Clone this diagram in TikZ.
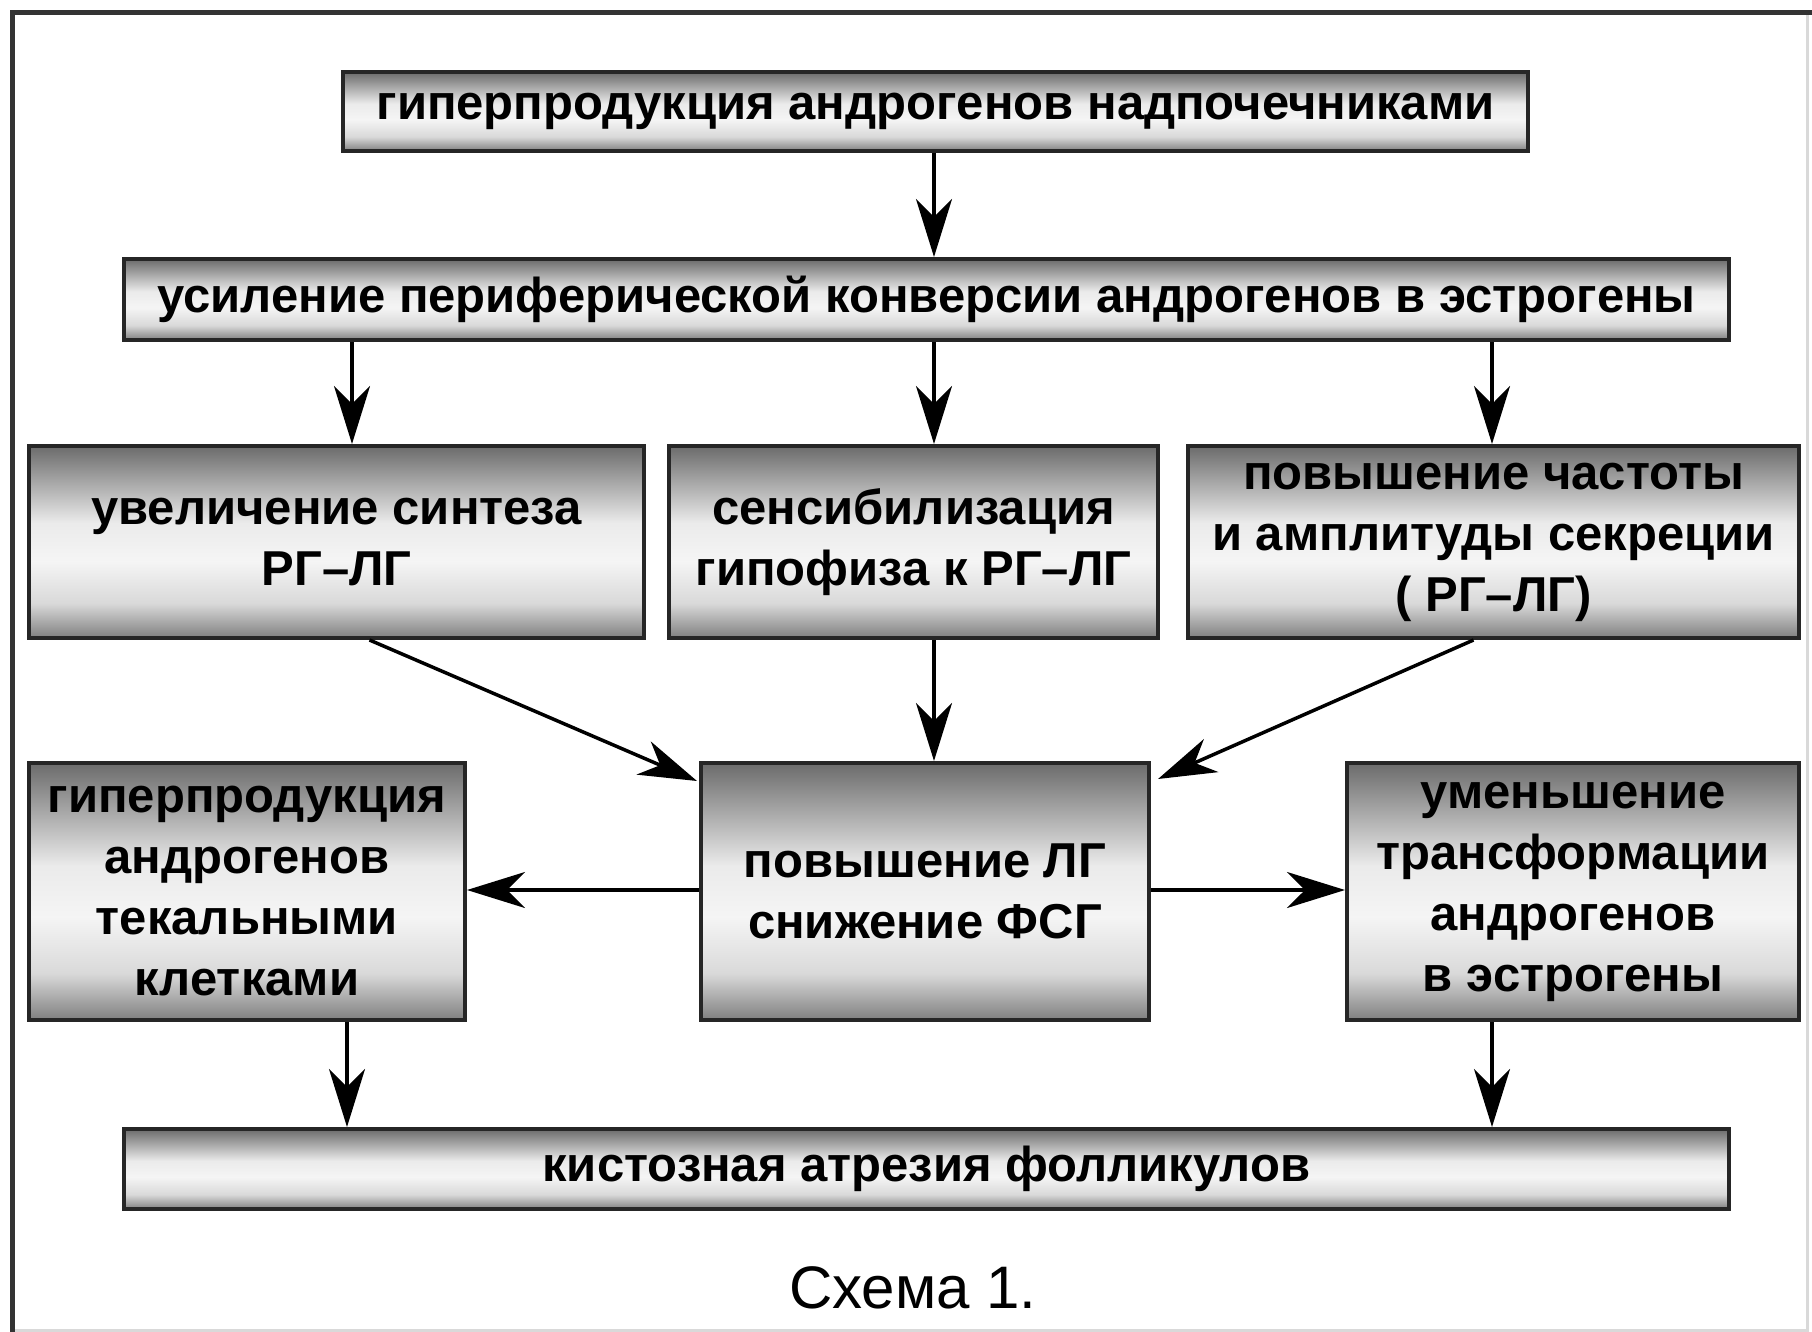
\documentclass[tikz,border=0pt]{standalone}
\usepackage{fontspec}
\setmainfont{Liberation Sans}
\usetikzlibrary{arrows.meta,calc}
\pgfdeclareverticalshading{boxsh}{100bp}{color(0bp)=(black!50); color(25bp)=(black!50); color(34bp)=(black!15); color(45bp)=(black!4); color(55bp)=(black!8); color(75bp)=(black!58); color(100bp)=(black!58)}
\tikzset{
  box/.style={draw=black!85, line width=4pt, shading=boxsh, inner sep=0pt, align=center,
    font=\fontsize{49}{61}\selectfont\bfseries},
  arr/.style={draw=black, line width=3.5pt, -{Stealth[length=58pt,width=36pt,inset=18pt]}},
  frameline/.style={draw=black!80, line width=5pt},
  faintline/.style={draw=black!15, line width=3pt}
}
\begin{document}
\begin{tikzpicture}[x=1pt,y=-1pt]
\useasboundingbox (0,0) rectangle (1812,1332);
\fill[white] (0,0) rectangle (1812,1332);
% frame
\coordinate (f1) at (12,1332);
\coordinate (f2) at (12,13);
\coordinate (f3) at (1812,13);
\coordinate (f4) at (1807,13);
\coordinate (f5) at (1807,1330);
\coordinate (f6) at (12,1330);
\draw[faintline] (f4) -- (f5) -- (f6);
\draw[frameline] (f1) -- (f2) -- (f3);
% boxes
\node[box, minimum width=1185pt, minimum height=79pt] (B1) at (935.5,111.5) {гиперпродукция андрогенов надпочечниками};
\node[box, minimum width=1605pt, minimum height=81pt] (B2) at (926.5,299.5) {усиление периферической конверсии андрогенов в эстрогены};
\node[box, minimum width=615pt, minimum height=192pt] (B3a) at (336.5,542) {увеличение синтеза\\РГ–ЛГ};
\node[box, minimum width=489pt, minimum height=192pt] (B3b) at (913.5,542) {сенсибилизация\\гипофиза к РГ–ЛГ};
\node[box, minimum width=611pt, minimum height=192pt] (B3c) at (1493.5,542) {повышение частоты\\и амплитуды секреции\\( РГ–ЛГ)};
\node[box, minimum width=436pt, minimum height=257pt] (B4a) at (247,891.5) {гиперпродукция\\андрогенов\\текальными\\клетками};
\node[box, minimum width=448pt, minimum height=257pt] (B4b) at (925,891.5) {повышение ЛГ\\снижение ФСГ};
\node[box, minimum width=452pt, minimum height=257pt] (B4c) at (1573,891.5) {уменьшение\\трансформации\\андрогенов\\в эстрогены};
\node[box, minimum width=1605pt, minimum height=80pt] (B5) at (926.5,1169) {кистозная атрезия фолликулов};
\node[font=\fontsize{60}{66}\selectfont, inner sep=0pt] (cap) at (913,1288) {Схема 1.};
% connector x positions
\coordinate (xa) at (352,0);
\coordinate (xb) at (934,0);
\coordinate (xc) at (1492,0);
\coordinate (xd) at (347,0);
\coordinate (ya) at (0,890);
% connectors
\draw[arr] (B1.south -| xb) -- (B2.north -| xb);
\draw[arr] (B2.south -| xa) -- (B3a.north -| xa);
\draw[arr] (B2.south -| xb) -- (B3b.north -| xb);
\draw[arr] (B2.south -| xc) -- (B3c.north -| xc);
\draw[arr] ($(B3a.south)+(33,0)$) -- ($(B4b.north west)+(-2,20)$);
\draw[arr] (B3b.south -| xb) -- (B4b.north -| xb);
\draw[arr] ($(B3c.south)+(-20,0)$) -- ($(B4b.north east)+(7,18)$);
\draw[arr] (B4b.west |- ya) -- (B4a.east |- ya);
\draw[arr] (B4b.east |- ya) -- (B4c.west |- ya);
\draw[arr] (B4a.south -| xd) -- (B5.north -| xd);
\draw[arr] (B4c.south -| xc) -- (B5.north -| xc);
\end{tikzpicture}
\end{document}
